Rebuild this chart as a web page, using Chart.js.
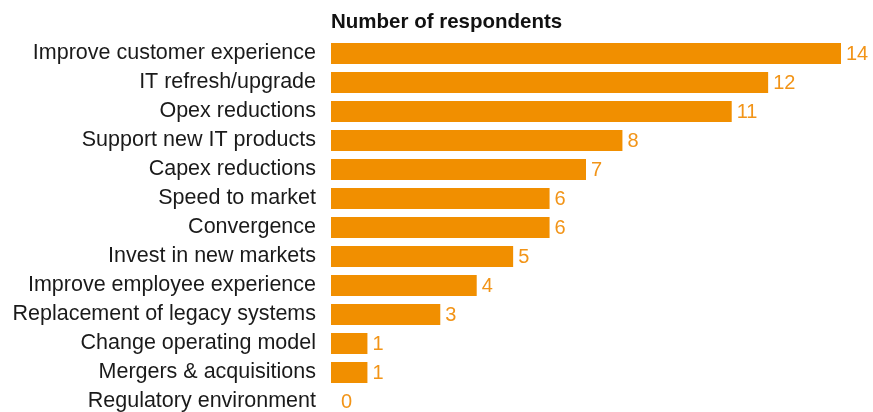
<!DOCTYPE html>
<html>
<head>
<meta charset="utf-8">
<script src="https://cdn.jsdelivr.net/npm/chart.js@4/dist/chart.umd.min.js"></script>
<style>
  html, body { margin: 0; padding: 0; background: #fff; overflow: hidden; }
  canvas { display: block; }
</style>
</head>
<body>
<canvas id="chart" width="873" height="420"></canvas>
<script>
// Reasons given by respondents, most frequent first
const categories = [
  'Improve customer experience',
  'IT refresh/upgrade',
  'Opex reductions',
  'Support new IT products',
  'Capex reductions',
  'Speed to market',
  'Convergence',
  'Invest in new markets',
  'Improve employee experience',
  'Replacement of legacy systems',
  'Change operating model',
  'Mergers & acquisitions',
  'Regulatory environment'
];
const respondents = [14, 12, 11, 8, 7, 6, 6, 5, 4, 3, 1, 1, 0];
const chartTitle = 'Number of respondents';

const ORANGE = '#F18F00';
const FONT = '"Liberation Sans", Arial, Helvetica, sans-serif';

// Writes each bar's count just past its end
const valueLabels = {
  id: 'valueLabels',
  afterDatasetsDraw(chart) {
    const ctx = chart.ctx;
    const meta = chart.getDatasetMeta(0);
    ctx.save();
    ctx.font = '20px ' + FONT;
    ctx.fillStyle = '#F29417';
    ctx.textAlign = 'left';
    ctx.textBaseline = 'middle';
    meta.data.forEach((bar, i) => {
      const v = chart.data.datasets[0].data[i];
      ctx.fillText(String(v), bar.x + (v === 0 ? 10 : 5), bar.y + 1);
    });
    ctx.restore();
  }
};

new Chart(document.getElementById('chart'), {
  type: 'bar',
  data: {
    labels: categories,
    datasets: [{
      data: respondents,
      backgroundColor: ORANGE,
      borderWidth: 0,
      categoryPercentage: 1,
      barPercentage: 0.724
    }]
  },
  options: {
    indexAxis: 'y',
    responsive: false,
    animation: false,
    layout: { padding: { top: 0, right: 32, bottom: 4, left: 0 } },
    plugins: {
      legend: { display: false },
      tooltip: { enabled: false },
      title: {
        display: true,
        text: chartTitle,
        align: 'start',
        fullSize: false,
        color: '#111',
        font: { family: FONT, size: 20.5, weight: 'bold' },
        padding: { top: 10, bottom: 4.4 }
      }
    },
    scales: {
      x: {
        display: false,
        min: 0,
        max: 14
      },
      y: {
        afterFit(scale) {
          // fixed label column; rows fill the full plot height
          scale.width = 331;
          scale.paddingTop = 0;
          scale.paddingBottom = 0;
        },
        grid: { display: false, drawTicks: false },
        border: { display: false },
        ticks: {
          color: '#1a1a1a',
          padding: 15,
          autoSkip: false,
          font: { family: FONT, size: 21.5 }
        }
      }
    }
  },
  plugins: [valueLabels]
});
</script>
</body>
</html>
